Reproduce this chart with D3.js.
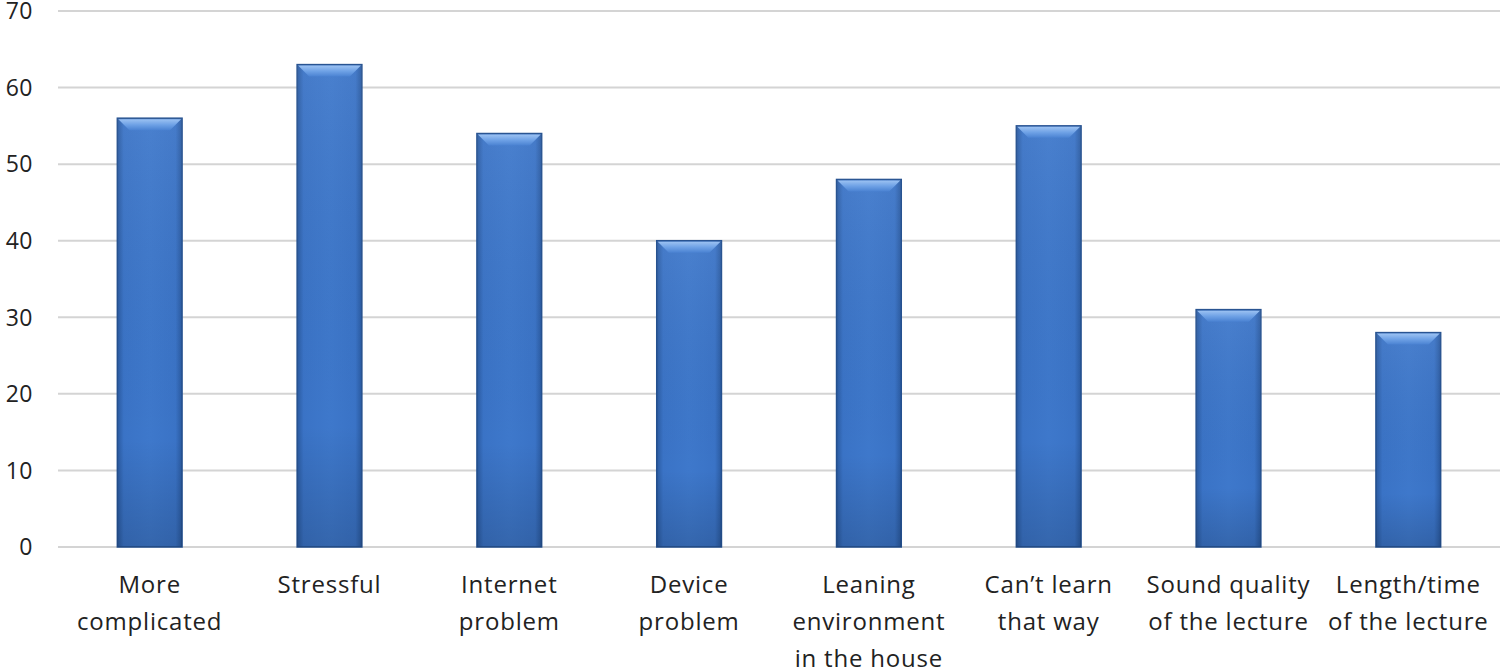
<!DOCTYPE html>
<html><head><meta charset="utf-8">
<script src="https://cdn.jsdelivr.net/npm/d3@7"></script>
<style>html,body{margin:0;padding:0;background:#fff;overflow:hidden}</style>
</head><body>
<svg id="c" width="1500" height="669"></svg>
<script>
const categories = [
  ["More","complicated"],
  ["Stressful"],
  ["Internet","problem"],
  ["Device","problem"],
  ["Leaning","environment","in the house"],
  ["Can\u2019t learn","that way"],
  ["Sound quality","of the lecture"],
  ["Length/time","of the lecture"]
];
const values = [56, 63, 54, 40, 48, 55, 31, 28];
const yTicks = [0,10,20,30,40,50,60,70];

const svg = d3.select("#c");
const m = {l:58, r:1500, t:11, b:547};
const x = d3.scaleBand().domain(d3.range(categories.length)).range([m.l, m.r]).paddingInner(0.64).paddingOuter(0.33);
const y = d3.scaleLinear().domain([0,70]).range([m.b, m.t]);

const defs = svg.append("defs");
const g1 = defs.append("linearGradient").attr("id","bh").attr("x1","0").attr("x2","1").attr("y1","0").attr("y2","0");
[[0,"#2a5aa0"],[0.1,"#3a73c6"],[0.5,"#3e78cb"],[0.9,"#3a73c6"],[1,"#2a5aa0"]].forEach(s=>g1.append("stop").attr("offset",s[0]).attr("stop-color",s[1]));
const g2 = defs.append("linearGradient").attr("id","bv").attr("x1","0").attr("x2","0").attr("y1","0").attr("y2","1");
[[0,"#ffffff",0.06],[0.75,"#000000",0.0],[1,"#000000",0.15]].forEach(s=>g2.append("stop").attr("offset",s[0]).attr("stop-color",s[1]).attr("stop-opacity",s[2]));
const g3 = defs.append("linearGradient").attr("id","bt").attr("x1","0").attr("x2","0").attr("y1","0").attr("y2","1");
[[0,"#9cc2f2"],[0.5,"#6fa2e6"],[1,"#4a82d2"]].forEach(s=>g3.append("stop").attr("offset",s[0]).attr("stop-color",s[1]));

// gridlines
svg.append("g").selectAll("line").data(yTicks).join("line")
  .attr("x1", m.l).attr("x2", m.r).attr("y1", d=>y(d)).attr("y2", d=>y(d))
  .attr("stroke","#d4d4d4").attr("stroke-width",2);

// y labels
svg.append("g").selectAll("text").data(yTicks).join("text")
  .attr("x", 33).attr("y", d=>y(d)).attr("dy","0.36em").attr("text-anchor","end")
  .attr("font-family","'Open Sans', 'Noto Sans', sans-serif").attr("font-size",23).attr("fill","#222")
  .attr("letter-spacing",0.5)
  .text(d=>d);

// bars
const bars = svg.append("g").selectAll("g").data(values).join("g");
const bw = x.bandwidth();
bars.append("rect").attr("x",(d,i)=>x(i)).attr("y",d=>y(d)).attr("width",bw).attr("height",d=>y(0)-y(d))
  .attr("fill","url(#bh)").attr("stroke","#24508f").attr("stroke-width",1.5);
bars.append("rect").attr("x",(d,i)=>x(i)).attr("y",d=>y(d)).attr("width",bw).attr("height",d=>y(0)-y(d))
  .attr("fill","url(#bv)");
// top bevel
bars.append("path").attr("d",(d,i)=>{
  const x0=x(i)+1, x1=x(i)+bw-1, t=y(d)+1, b=11;
  return `M${x0},${t}L${x1},${t}L${x1-b},${t+b}L${x0+b},${t+b}Z`;
}).attr("fill","url(#bt)");

// x labels
const lab = svg.append("g").selectAll("text").data(categories).join("text")
  .attr("x",(d,i)=>x(i)+bw/2).attr("y",593).attr("text-anchor","middle")
  .attr("font-family","'Open Sans', 'Noto Sans', sans-serif").attr("font-size",24).attr("fill","#222")
  .attr("letter-spacing",0.8);
lab.each(function(d){
  const t=d3.select(this);
  d.forEach((s,k)=>t.append("tspan").attr("x",t.attr("x")).attr("dy",k===0?0:37).text(s));
});
</script>
</body></html>
